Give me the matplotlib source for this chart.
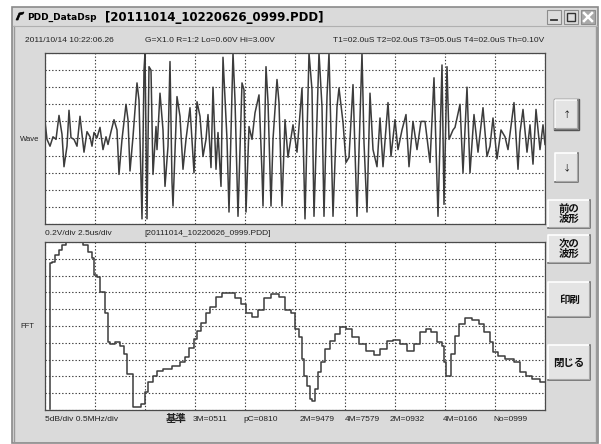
import numpy as np
import matplotlib.pyplot as plt
from matplotlib.patches import Rectangle, Polygon

# ---------------------------------------------------------------
# data: wave (time in us, volts) and FFT (MHz, dB)
# ---------------------------------------------------------------

wave_t = [0.00, 0.10, 0.25, 0.40, 0.55, 0.70, 0.85, 0.95, 1.10, 1.20,
          1.30, 1.45, 1.60, 1.75, 1.90, 1.95, 2.10, 2.25, 2.35, 2.45,
          2.60, 2.75, 2.90, 3.05, 3.15, 3.30, 3.45, 3.60, 3.70, 3.85,
          4.05, 4.15, 4.25, 4.40, 4.60, 4.70, 4.85, 4.95, 5.00, 5.10,
          5.20, 5.30, 5.40, 5.55, 5.60, 5.75, 5.90, 6.00, 6.15, 6.25,
          6.35, 6.40, 6.60, 6.75, 6.90, 7.05, 7.25, 7.45, 7.60, 7.75,
          7.90, 8.05, 8.15, 8.30, 8.40, 8.55, 8.65, 8.80, 8.90, 9.10,
          9.20, 9.40, 9.50, 9.65, 9.85, 9.95, 10.05, 10.20, 10.35, 10.50,
          10.70, 10.85, 10.90, 11.05, 11.15, 11.30, 11.40, 11.60, 11.70, 11.85,
          12.00, 12.15, 12.40, 12.60, 12.85, 13.00, 13.20, 13.35, 13.45, 13.70,
          13.85, 13.95, 14.10, 14.20, 14.40, 14.60, 14.70, 14.90, 15.05, 15.20,
          15.40, 15.60, 15.85, 15.95, 16.10, 16.25, 16.40, 16.60, 16.75, 16.90,
          17.15, 17.30, 17.50, 17.65, 17.85, 18.05, 18.20, 18.40, 18.60, 18.80,
          19.00, 19.25, 19.45, 19.65, 19.85, 19.95, 20.10, 20.20, 20.40, 20.50,
          20.75, 20.90, 21.10, 21.25, 21.45, 21.65, 21.90, 22.10, 22.25, 22.40,
          22.60, 22.80, 23.00, 23.15, 23.45, 23.65, 23.75, 23.90, 24.10, 24.25,
          24.40, 24.55, 24.75, 24.90, 25.00]
wave_v = [0.20, -0.01, -0.09, 0.02, -0.01, 0.27, 0.05, -0.33, -0.09, 0.33,
          0.01, -0.01, -0.09, 0.26, -0.05, -0.16, 0.08, 0.02, -0.09, 0.07,
          0.01, 0.13, -0.13, 0.02, -0.07, 0.08, 0.22, 0.10, -0.42, -0.01,
          0.40, 0.22, -0.38, 0.02, 0.65, 0.45, -0.94, 0.80, 1.00, -0.94,
          0.84, 0.80, -0.42, 0.14, -0.13, 0.53, 0.10, -0.56, -0.09, 0.90,
          -0.51, -0.79, 0.49, 0.26, -0.36, -0.01, 0.36, -0.40, 0.43, 0.26,
          -0.21, -0.01, 0.28, -0.34, 0.60, -0.36, 0.07, -0.56, 0.95, -0.01,
          -0.86, 1.00, 0.45, -0.91, 0.65, 0.57, -0.86, 0.14, -0.01, 0.30,
          0.51, -0.40, -0.79, 0.84, 0.43, -0.79, -0.01, 0.69, 0.42, -0.79,
          0.22, -0.22, 0.16, -0.16, 0.59, -0.94, 1.00, 0.57, -0.91, 1.00,
          0.37, -0.91, 0.49, 1.00, -0.91, 0.37, 0.59, 0.19, -0.28, -0.22,
          0.63, -0.91, 1.00, -0.05, -0.86, 0.53, -0.13, -0.33, 0.24, -0.33,
          0.42, -0.21, 0.22, -0.13, 0.10, 0.28, -0.33, 0.20, -0.13, 0.20,
          0.20, -0.28, 0.71, -0.91, 0.86, -0.77, 0.84, -0.01, 0.10, 0.13,
          0.40, -0.40, 0.60, -0.40, 0.28, -0.16, 0.36, -0.21, -0.09, 0.24,
          -0.24, 0.10, 0.02, -0.13, 0.42, -0.36, 0.07, 0.34, -0.16, 0.16,
          -0.30, 0.34, -0.13, 0.16, -0.07]

fft_f = [0.05, 0.05, 0.08, 0.12, 0.15, 0.18, 0.23, 0.35, 0.40, 0.45,
         0.48, 0.50, 0.53, 0.57, 0.62, 0.63, 0.67, 0.72, 0.77, 0.80,
         0.83, 0.87, 0.88, 0.93, 0.98, 1.01, 1.05, 1.10, 1.13, 1.22,
         1.32, 1.37, 1.42, 1.47, 1.50, 1.53, 1.58, 1.63, 1.68, 1.73,
         1.80, 1.87, 1.93, 1.98, 2.03, 2.10, 2.15, 2.22, 2.30, 2.37,
         2.43, 2.48, 2.52, 2.55, 2.58, 2.60, 2.63, 2.66, 2.68, 2.72,
         2.74, 2.78, 2.82, 2.87, 2.92, 2.98, 3.03, 3.10, 3.17, 3.25,
         3.32, 3.38, 3.45, 3.51, 3.58, 3.65, 3.72, 3.78, 3.83, 3.88,
         3.95, 3.98, 4.00, 4.01, 4.05, 4.07, 4.12, 4.17, 4.23, 4.30,
         4.37, 4.42, 4.47, 4.50, 4.55, 4.65, 4.72, 4.78, 4.83, 4.90,
         5.00]
fft_db = [0.3, 43.8, 44.1, 46.2, 47.7, 49.1, 50.0, 50.0, 49.1, 47.1,
          45.3, 40.3, 39.7, 35.2, 29.0, 20.1, 19.5, 20.1, 18.9, 16.6,
          10.7, 10.7, 0.9, 0.9, 1.8, 5.3, 8.3, 10.1, 11.5, 12.1,
          13.0, 14.2, 15.7, 18.6, 21.0, 23.4, 26.0, 29.0, 30.8, 33.7,
          34.9, 34.9, 33.4, 31.4, 29.0, 27.8, 29.9, 33.4, 34.6, 33.7,
          29.9, 29.0, 24.0, 21.6, 15.1, 10.1, 7.1, 3.3, 2.7, 6.2,
          11.2, 14.2, 18.1, 20.4, 22.5, 24.6, 24.0, 21.6, 19.5, 17.5,
          16.3, 18.1, 20.4, 20.7, 19.5, 17.5, 19.5, 23.1, 24.0, 23.1,
          20.1, 18.9, 14.2, 10.1, 10.1, 16.6, 21.9, 25.5, 27.5, 26.9,
          25.5, 23.1, 20.1, 17.2, 16.0, 15.1, 14.2, 11.2, 10.1, 9.2,
          8.3]

window_title = "PDD_DataDsp"
file_title = "[20111014_10220626_0999.PDD]"
header_items = ["2011/10/14 10:22:06.26",
                "G=X1.0 R=1:2 Lo=0.60V Hi=3.00V",
                "T1=02.0uS T2=02.0uS T3=05.0uS T4=02.0uS Th=0.10V"]
wave_scale = "0.2V/div 2.5us/div"
fft_scale = "5dB/div 0.5MHz/div"
ref_values = ["3M=0511", "pC=0810", "2M=9479", "4M=7579",
              "2M=0932", "4M=0166", "No=0999"]
buttons = ["\u2191", "\u2193", "前の\n波形", "次の\n波形", "印刷", "閉じる"]

# ---------------------------------------------------------------
# layout (pixels)
# ---------------------------------------------------------------
W, H = 601, 444
FACE = "#dadada"
TRACE = "#3c3c3c"

plt.rcParams["font.family"] = ["Liberation Sans", "Noto Sans CJK JP", "DejaVu Sans"]


def box(x0, y0, x1, y1):
    return [x0 / W, 1 - y1 / H, (x1 - x0) / W, (y1 - y0) / H]


def draw_button(ax, x0, y0, x1, y1, label, size=7, bold=True, pressed=False):
    ax.add_patch(Rectangle((x0, y0), x1 - x0, y1 - y0, facecolor="#e4e4e4",
                           edgecolor="none"))
    ax.plot([x0, x0, x1], [y1, y0, y0], color="white", lw=1.2)
    ax.plot([x0, x1, x1], [y1, y1, y0], color="#6a6a6a", lw=1.2)
    ax.plot([x0 + 1, x1 - 1, x1 - 1], [y1 - 1, y1 - 1, y0 + 1], color="#a8a8a8", lw=0.8)
    if pressed:
        ax.add_patch(Rectangle((x0 - 1, y0 - 1), x1 - x0 + 2, y1 - y0 + 2,
                               facecolor="none", edgecolor="#555555", lw=1.0))
    ax.text((x0 + x1) / 2, (y0 + y1) / 2, label, ha="center", va="center",
            fontsize=size, fontweight="bold" if bold else "normal",
            color="#111111", linespacing=0.95,
            family=["Noto Sans CJK JP", "DejaVu Sans"])


fig = plt.figure(figsize=(W / 100, H / 100), dpi=100)
fig.patch.set_facecolor("white")

# background canvas in pixel coordinates
bg = fig.add_axes([0, 0, 1, 1])
bg.set_xlim(0, W)
bg.set_ylim(H, 0)
bg.axis("off")

# window body and frame
bg.add_patch(Rectangle((12, 7), 586, 436, facecolor=FACE, edgecolor="#8a8a8a", lw=1.2))
bg.plot([14, 14], [26, 441], color="#9a9a9a", lw=1.0)
bg.plot([596, 596], [26, 441], color="#9a9a9a", lw=1.0)

# title bar with a soft vertical gradient
grad = np.linspace(0.97, 0.80, 40).reshape(-1, 1) * np.ones((1, 10))
bg.imshow(grad, cmap="gray", vmin=0, vmax=1, extent=(13, 597, 26, 8),
          aspect="auto", interpolation="bilinear")
bg.plot([13, 597], [26, 26], color="#b0b0b0", lw=0.8)
bg.add_patch(Polygon([[16, 20], [19, 13], [24, 12], [23, 14], [20, 15], [18, 20]],
                     closed=True, facecolor="black", edgecolor="black", lw=0.5))
bg.text(27, 17, window_title, fontsize=6.5, fontweight="bold", va="center",
        family="DejaVu Sans")
bg.text(105, 17, file_title, fontsize=8.5, fontweight="bold", va="center",
        family="DejaVu Sans")

# caption buttons
for i, x in enumerate([547, 564, 581]):
    fc = "#a9a9a9" if i == 2 else "#dcdcdc"
    bg.add_patch(Rectangle((x, 10), 14, 14, facecolor=fc, edgecolor="#8c8c8c", lw=0.8))
bg.plot([551, 557], [20, 20], color="#333333", lw=1.3)
bg.add_patch(Rectangle((567, 13), 8, 8, facecolor="none", edgecolor="#333333", lw=1.0))
bg.plot([584, 592], [13, 21], color="white", lw=1.8)
bg.plot([584, 592], [21, 13], color="white", lw=1.8)

# header line
for x, s in zip([25, 145, 333], header_items):
    bg.text(x, 41, s, fontsize=6, va="center", color="#222222")

bg.text(20, 139, "Wave", fontsize=5.5, va="center", ha="left", color="#222222")
bg.text(20, 326, "FFT", fontsize=5.5, va="center", ha="left", color="#222222")

bg.text(45, 233, wave_scale, fontsize=6, va="center", color="#222222")
bg.text(144, 233, file_title, fontsize=6, va="center", color="#222222")

bg.text(45, 419, fft_scale, fontsize=6, va="center", color="#222222")
bg.text(166, 419, "基準", fontsize=7.5, fontweight="bold", va="center",
        color="#222222", family=["Noto Sans CJK JP", "DejaVu Sans"])
for x, s in zip([193, 243, 300, 345, 390, 443, 493], ref_values):
    bg.text(x, 419, s, fontsize=6, va="center", color="#222222")

# side buttons
btn_boxes = [(555, 100, 578, 129), (555, 153, 578, 182), (548, 200, 590, 228),
             (548, 235, 590, 263), (548, 282, 590, 317), (548, 345, 590, 380)]
for (x0, y0, x1, y1), label in zip(btn_boxes, buttons):
    small = label in ("\u2191", "\u2193")
    draw_button(bg, x0, y0, x1, y1, label, size=6 if small else 7.5,
                bold=not small, pressed=(label == "\u2191"))


def scope_axes(rect, xlim, ylim):
    ax = fig.add_axes(rect)
    ax.set_facecolor("white")
    ax.set_xlim(*xlim)
    ax.set_ylim(*ylim)
    ax.set_xticks(np.linspace(xlim[0], xlim[1], 11))
    ax.set_yticks(np.linspace(ylim[0], ylim[1], 11))
    ax.tick_params(length=0, labelbottom=False, labelleft=False)
    ax.grid(True, color="#3a3a3a", linestyle=(0, (1.2, 1.8)), lw=0.8)
    for sp in ax.spines.values():
        sp.set_color("#4a4a4a")
        sp.set_linewidth(0.9)
    return ax


ax_wave = scope_axes(box(45, 53, 545, 224), (0, 25), (-1.0, 1.0))
ax_wave.plot(wave_t, wave_v, color=TRACE, lw=1.1)

# spectrum is drawn as a staircase like the instrument display
ax_fft = scope_axes(box(45, 242, 545, 410), (0, 5), (0, 50))
ax_fft.plot(fft_f, fft_db, color=TRACE, lw=1.1, drawstyle="steps-mid")

fig.savefig("out.png", dpi=100)
